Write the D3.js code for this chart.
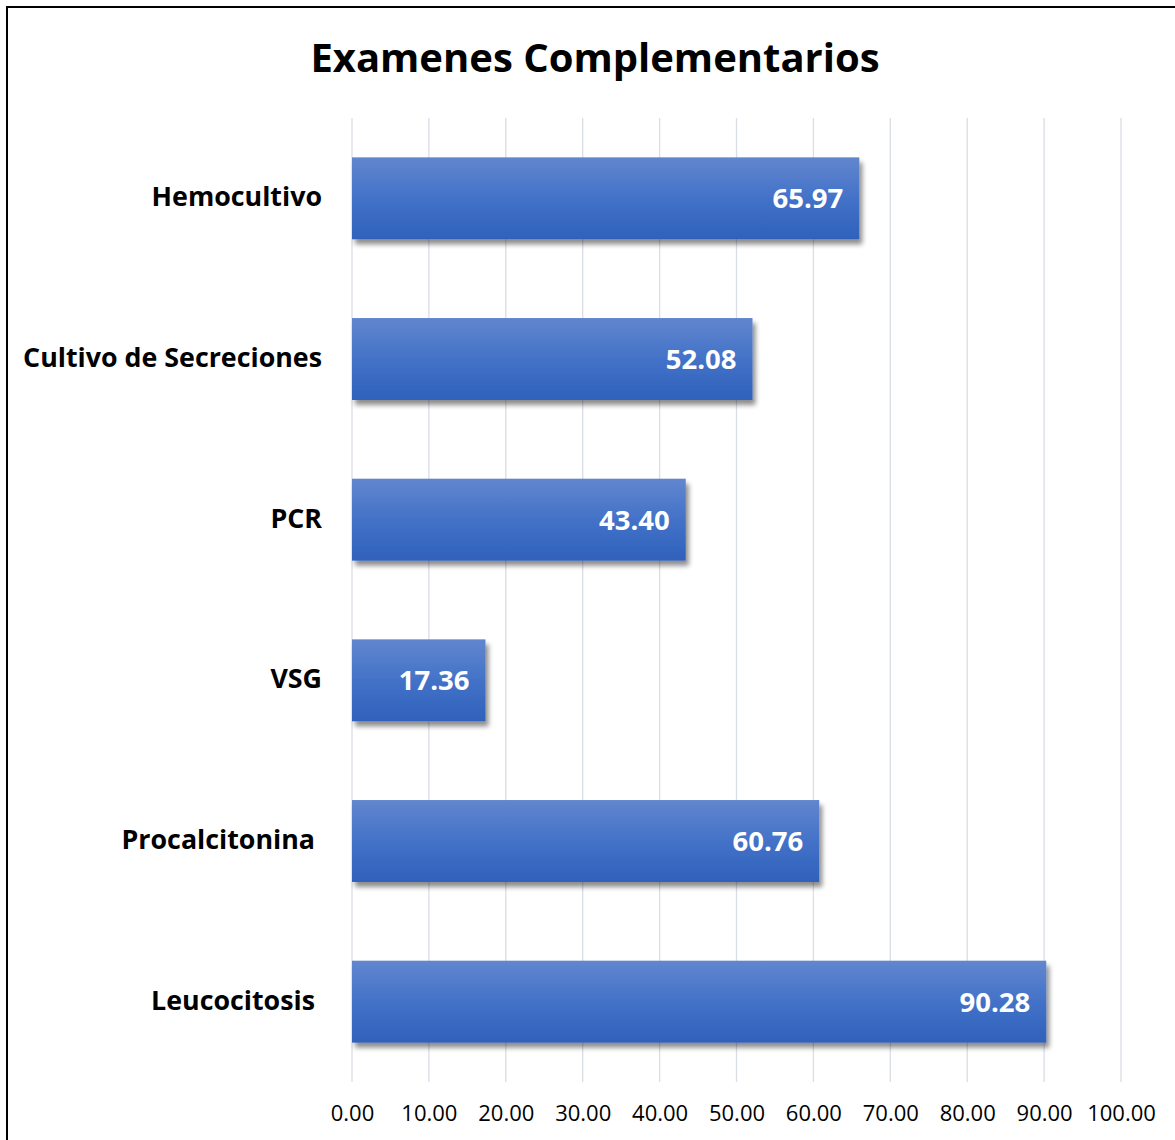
<!DOCTYPE html>
<html>
<head>
<meta charset="utf-8">
<script src="https://cdn.jsdelivr.net/npm/d3@7"></script>
<style>
  body { margin: 0; background: #fff; }
  text { font-family: "Open Sans", "Noto Sans", sans-serif; }
</style>
</head>
<body>
<script>
var svgWidth = 1175;
var svgHeight = 1140;

// data
var categories = ["Hemocultivo", "Cultivo de Secreciones", "PCR", "VSG", "Procalcitonina ", "Leucocitosis "];
var values = [65.97, 52.08, 43.40, 17.36, 60.76, 90.28];
var tickValues = [0, 10, 20, 30, 40, 50, 60, 70, 80, 90, 100];

var margin = {top: 118, left: 352, right: 54, bottom: 58};
var width = svgWidth - margin.left - margin.right;
var height = svgHeight - margin.top - margin.bottom;

var svg = d3.select("body")
  .append("svg")
  .attr("width", svgWidth)
  .attr("height", svgHeight);

var defs = svg.append("defs");
var grad = defs.append("linearGradient")
  .attr("id", "barGrad")
  .attr("x1", 0).attr("y1", 0).attr("x2", 0).attr("y2", 1);
grad.append("stop").attr("offset", "0%").attr("stop-color", "#6286cf");
grad.append("stop").attr("offset", "50%").attr("stop-color", "#4372c8");
grad.append("stop").attr("offset", "100%").attr("stop-color", "#2f61bb");

var shadow = defs.append("filter")
  .attr("id", "shadow")
  .attr("x", "-5%").attr("y", "-20%").attr("width", "115%").attr("height", "150%");
shadow.append("feGaussianBlur").attr("in", "SourceAlpha").attr("stdDeviation", 2.5);
shadow.append("feOffset").attr("dx", 3).attr("dy", 5).attr("result", "off");
shadow.append("feComponentTransfer").append("feFuncA").attr("type", "linear").attr("slope", 0.45);
var merge = shadow.append("feMerge");
merge.append("feMergeNode");
merge.append("feMergeNode").attr("in", "SourceGraphic");

// frame
svg.append("rect")
  .attr("x", 7).attr("y", 7)
  .attr("width", svgWidth + 10).attr("height", svgHeight + 10)
  .attr("fill", "none")
  .attr("stroke", "#000")
  .attr("stroke-width", 2);

svg.append("text")
  .attr("x", 595)
  .attr("y", 72)
  .attr("text-anchor", "middle")
  .attr("font-size", 40)
  .attr("font-weight", "bold")
  .attr("fill", "#000")
  .text("Examenes Complementarios");

var chartGroup = svg.append("g")
  .attr("transform", `translate(${margin.left}, ${margin.top})`);

var x = d3.scaleLinear()
  .domain([0, 100])
  .range([0, width]);

var y = d3.scaleBand()
  .domain(categories)
  .range([0, height])
  .paddingInner(0.49)
  .paddingOuter(0.245);

// gridlines
chartGroup.append("g")
  .selectAll("line")
  .data(tickValues)
  .enter()
  .append("line")
  .attr("x1", d => x(d)).attr("x2", d => x(d))
  .attr("y1", 0).attr("y2", height)
  .attr("stroke", "#d9dde4")
  .attr("stroke-width", 1.3);

// bottom axis (labels only)
var bottomAxis = d3.axisBottom(x)
  .tickValues(tickValues)
  .tickFormat(d3.format(".2f"))
  .tickSize(0)
  .tickPadding(23);

var axisG = chartGroup.append("g")
  .attr("transform", `translate(0, ${height})`)
  .call(bottomAxis);
axisG.select(".domain").remove();
axisG.selectAll("text")
  .attr("fill", "#000")
  .style("font-family", "'Liberation Sans Narrow', 'Open Sans', sans-serif")
  .attr("font-size", 22);

// bars
chartGroup.selectAll(".bar")
  .data(values)
  .enter()
  .append("rect")
  .attr("class", "bar")
  .attr("x", 0)
  .attr("y", (d, i) => y(categories[i]))
  .attr("width", d => x(d))
  .attr("height", y.bandwidth())
  .attr("fill", "url(#barGrad)")
  .attr("filter", "url(#shadow)");

// value labels
chartGroup.selectAll(".val")
  .data(values)
  .enter()
  .append("text")
  .attr("class", "val")
  .attr("x", d => x(d) - 16)
  .attr("y", (d, i) => y(categories[i]) + y.bandwidth() / 2 + 10)
  .attr("text-anchor", "end")
  .attr("font-size", 27.5)
  .attr("font-weight", "bold")
  .attr("fill", "#fff")
  .text(d => d3.format(".2f")(d));

// category labels
chartGroup.selectAll(".cat")
  .data(categories)
  .enter()
  .append("text")
  .attr("class", "cat")
  .attr("x", -30)
  .attr("y", d => y(d) + y.bandwidth() / 2 + 8)
  .attr("text-anchor", "end")
  .attr("font-size", 26.8)
  .attr("font-weight", "bold")
  .attr("fill", "#000")
  .style("white-space", "pre")
  .text(d => d);
</script>
</body>
</html>
